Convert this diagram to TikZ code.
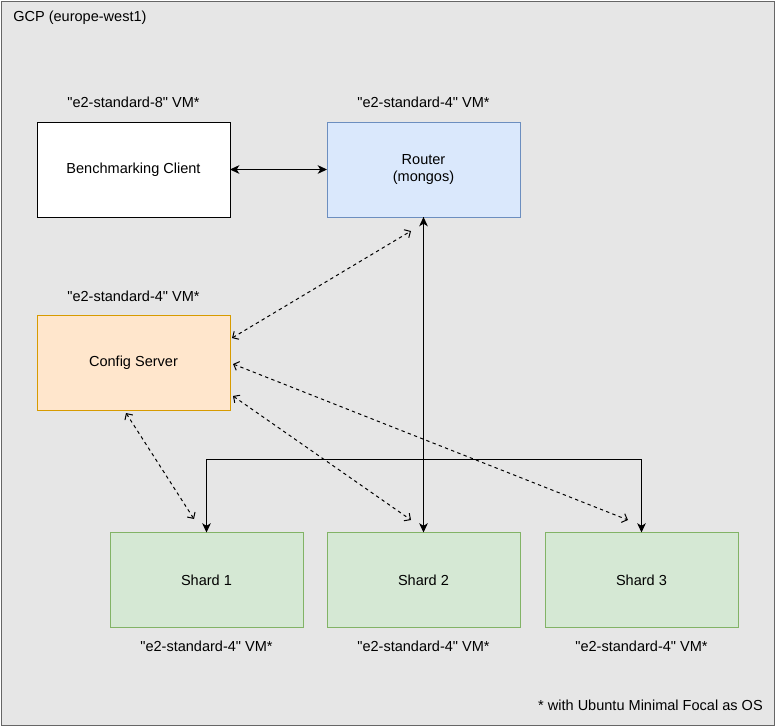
\documentclass[tikz,border=0pt]{standalone}
\usepackage{fontspec}
\setmainfont{Liberation Sans}[Ligatures=TeXOff]
\usetikzlibrary{arrows.meta}
\definecolor{bgc}{HTML}{E6E6E6}
\definecolor{framec}{HTML}{666666}
\definecolor{routerfill}{HTML}{DAE8FC}
\definecolor{routerline}{HTML}{6C8EBF}
\definecolor{cfgfill}{HTML}{FFE6CC}
\definecolor{cfgline}{HTML}{D79B00}
\definecolor{shardfill}{HTML}{D5E8D4}
\definecolor{shardline}{HTML}{82B366}
\begin{document}
\begin{tikzpicture}[x=0.75pt,y=-0.75pt, font=\fontsize{10.9}{12.75}\selectfont,
  box/.style={draw, line width=0.75pt, minimum width=144.75pt, minimum height=71.25pt, inner sep=0pt, outer sep=0pt, align=center},
  clientbox/.style={box, fill=white, draw=black},
  routerbox/.style={box, fill=routerfill, draw=routerline},
  cfgbox/.style={box, fill=cfgfill, draw=cfgline},
  shardbox/.style={box, fill=shardfill, draw=shardline},
  lbl/.style={inner sep=0pt},
  solidarrow/.style={line width=0.75pt, {Stealth[length=7pt,width=6.5pt,inset=2pt]}-{Stealth[length=7pt,width=6.5pt,inset=2pt]}},
  solidend/.style={line width=0.75pt, -{Stealth[length=7pt,width=6.5pt,inset=2pt]}},
  dasharrow/.style={line width=0.75pt, dash pattern=on 2.5pt off 2.5pt, {Straight Barb[length=3.5pt,width=7pt]}-{Straight Barb[length=3.5pt,width=7pt]}}
]
\useasboundingbox (0,0) rectangle (775,726);
\node[draw=framec, fill=bgc, line width=0.75pt, minimum width=579.75pt, minimum height=543pt, inner sep=0pt] (gcp) at (387.5,363) {};
\node[lbl, anchor=west] (gcplbl) at (13,18) {GCP (europe-west1)};

\node[clientbox] (client) at (133.5,169.5) {Benchmarking Client};
\node[routerbox] (router) at (423.5,169.5) {Router\\(mongos)};
\node[cfgbox] (config) at (133.5,363) {Config Server};
\node[shardbox] (shard1) at (206.5,580) {Shard 1};
\node[shardbox] (shard2) at (423.5,580) {Shard 2};
\node[shardbox] (shard3) at (641.5,580) {Shard 3};

\node[lbl] (lclient) at (133.5,102) {"e2-standard-8" VM*};
\node[lbl] (lrouter) at (423.5,102) {"e2-standard-4" VM*};
\node[lbl] (lconfig) at (133.5,296) {"e2-standard-4" VM*};
\node[lbl] (lshard1) at (206.5,646) {"e2-standard-4" VM*};
\node[lbl] (lshard2) at (423.5,646) {"e2-standard-4" VM*};
\node[lbl] (lshard3) at (641.5,646) {"e2-standard-4" VM*};
\node[lbl, anchor=east] (note) at (763,705) {* with Ubuntu Minimal Focal as OS};

\draw[solidarrow] (client) -- (router);
\draw[solidarrow] (router.south) -- (shard2.north);
\draw[solidend] (router.south) -- ++(0,242) -| (shard1.north);
\draw[solidend] (router.south) -- ++(0,242) -| (shard3.north);

\coordinate (cR) at (232,338);
\coordinate (rC) at (411,231);
\coordinate (c1) at (126,413);
\coordinate (s1) at (194,519);
\coordinate (c2) at (233,396);
\coordinate (s2) at (411,520);
\coordinate (c3) at (233,364);
\coordinate (s3) at (628,520);
\draw[dasharrow] (cR) -- (rC);
\draw[dasharrow] (c1) -- (s1);
\draw[dasharrow] (c2) -- (s2);
\draw[dasharrow] (c3) -- (s3);
\end{tikzpicture}
\end{document}
